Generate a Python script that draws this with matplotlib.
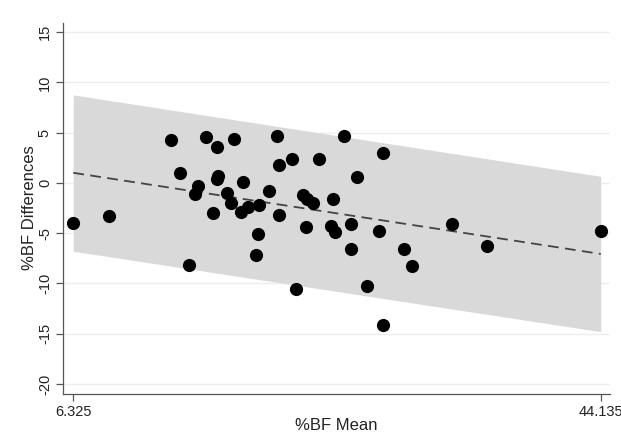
import matplotlib
matplotlib.use("Agg")
import matplotlib.pyplot as plt
import numpy as np

plt.rcParams['font.family'] = ['Liberation Sans', 'DejaVu Sans']

bf_mean = [6.325, 8.9, 13.35, 14.0, 14.6, 15.06, 15.3, 15.85, 16.37, 16.6,
           16.73, 16.66, 17.33, 17.6, 17.86, 18.34, 18.5, 18.88, 19.4, 19.55,
           19.67, 20.39, 20.9, 21.05, 21.05, 22.0, 22.3, 22.78, 23.1, 23.5,
           23.97, 23.0, 24.97, 24.8, 25.1, 25.7, 26.2, 26.25, 26.65, 27.4,
           28.27, 28.5, 28.55, 30.0, 30.6, 33.45, 35.96, 44.135]
bf_diff = [-3.95, -3.3, 4.25, 0.96, -8.2, -1.13, -0.27, 4.6, -3.02, 3.6,
           0.7, 0.37, -1.03, -1.96, 4.4, -2.85, 0.07, -2.42, -7.2, -5.1,
           -2.19, -0.76, 4.7, 1.8, -3.2, 2.4, -10.6, -1.19, -1.62, -1.96,
           2.4, -4.35, -1.59, -4.28, -4.85, 4.7, -4.08, -6.6, 0.56, -10.3,
           -4.78, -14.1, 3.0, -6.6, -8.3, -4.1, -6.3, -4.78]

line_x = [6.325, 44.135]
line_mid = [1.0, -7.07]
line_upper = [8.75, 0.65]
line_lower = [-6.8, -14.8]

y_ticks = [-20, -15, -10, -5, 0, 5, 10, 15]
x_ticks = [6.325, 44.135]
x_tick_labels = ["6.325", "44.135"]

fig = plt.figure(figsize=(6.21, 4.38), dpi=100)
ax = fig.add_axes([63/621, 44/438, (610-63)/621, (394-23)/438])

ax.set_xlim(5.59, 44.8)
ax.set_ylim(-21.0, 15.9)

for yt in y_ticks:
    ax.axhline(yt, color='#e9eff1', lw=1.0, zorder=0)

ax.fill_between(line_x, line_lower, line_upper, color='#d9d9d9', lw=0, zorder=1)
ax.plot(line_x, line_mid, color='#444444', lw=1.3, dashes=(6, 3.5), zorder=2)
ax.scatter(bf_mean, bf_diff, s=90, color='black', zorder=3, linewidths=0)

ax.set_yticks(y_ticks)
ax.set_yticklabels([str(t) for t in y_ticks], rotation=90, va='center', fontsize=10.5)
ax.set_xticks(x_ticks)
ax.set_xticklabels(x_tick_labels, fontsize=10.5)

for s in ['top', 'right']:
    ax.spines[s].set_visible(False)
for s in ['left', 'bottom']:
    ax.spines[s].set_color('#555555')
    ax.spines[s].set_linewidth(0.9)
ax.tick_params(axis='both', colors='#555555', length=5, width=0.9, labelcolor='#222222', pad=3)

fig.text(336/621, 1 - 425/438, '%BF Mean', fontsize=12, color='#222222',
         ha='center', va='center')
fig.text(30/621, 1 - 208/438, '%BF Differences', fontsize=12, color='#222222',
         ha='center', va='center', rotation=90)

fig.savefig('out.png', dpi=100)
